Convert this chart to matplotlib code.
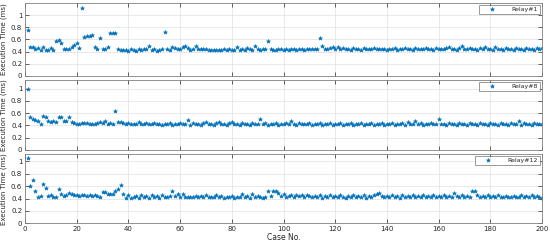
import numpy as np
import matplotlib
matplotlib.use("Agg")
import matplotlib.pyplot as plt

cases = list(range(1, 201))

relay1 = [
    0.76, 0.47, 0.48, 0.45, 0.46, 0.43, 0.47, 0.42, 0.42, 0.46,
    0.42, 0.57, 0.59, 0.54, 0.44, 0.44, 0.45, 0.48, 0.51, 0.55,
    0.46, 1.11, 0.64, 0.65, 0.66, 0.68, 0.47, 0.44, 0.63, 0.44,
    0.45, 0.48, 0.71, 0.71, 0.70, 0.45, 0.43, 0.42, 0.43, 0.41,
    0.45, 0.42, 0.41, 0.45, 0.42, 0.44, 0.45, 0.50, 0.42, 0.45,
    0.41, 0.42, 0.45, 0.73, 0.45, 0.42, 0.48, 0.46, 0.45, 0.44,
    0.47, 0.50, 0.46, 0.43, 0.45, 0.50, 0.44, 0.44, 0.45, 0.44,
    0.43, 0.43, 0.43, 0.42, 0.43, 0.43, 0.44, 0.43, 0.44, 0.43,
    0.42, 0.48, 0.43, 0.44, 0.42, 0.46, 0.44, 0.43, 0.50, 0.44,
    0.43, 0.45, 0.44, 0.58, 0.44, 0.43, 0.42, 0.44, 0.45, 0.43,
    0.44, 0.43, 0.45, 0.44, 0.43, 0.44, 0.45, 0.43, 0.44, 0.44,
    0.44, 0.44, 0.44, 0.62, 0.50, 0.45, 0.44, 0.46, 0.48, 0.45,
    0.47, 0.44, 0.46, 0.44, 0.45, 0.43, 0.46, 0.44, 0.45, 0.43,
    0.46, 0.44, 0.45, 0.44, 0.46, 0.44, 0.44, 0.44, 0.44, 0.43,
    0.45, 0.44, 0.46, 0.43, 0.45, 0.44, 0.46, 0.44, 0.45, 0.43,
    0.46, 0.44, 0.45, 0.44, 0.46, 0.44, 0.45, 0.43, 0.46, 0.44,
    0.45, 0.44, 0.46, 0.47, 0.44, 0.45, 0.43, 0.46, 0.50, 0.45,
    0.44, 0.46, 0.44, 0.45, 0.43, 0.46, 0.44, 0.47, 0.44, 0.45,
    0.43, 0.47, 0.44, 0.45, 0.43, 0.46, 0.44, 0.45, 0.43, 0.46,
    0.44, 0.45, 0.43, 0.46, 0.44, 0.45, 0.43, 0.46, 0.44, 0.46,
]

relay8 = [
    1.00, 0.54, 0.51, 0.49, 0.48, 0.42, 0.56, 0.54, 0.47, 0.45,
    0.48, 0.45, 0.54, 0.54, 0.47, 0.47, 0.53, 0.46, 0.44, 0.43,
    0.43, 0.44, 0.44, 0.44, 0.42, 0.43, 0.42, 0.44, 0.45, 0.44,
    0.47, 0.42, 0.44, 0.43, 0.64, 0.46, 0.46, 0.44, 0.43, 0.44,
    0.42, 0.43, 0.42, 0.46, 0.43, 0.42, 0.44, 0.43, 0.42, 0.44,
    0.42, 0.43, 0.41, 0.43, 0.42, 0.44, 0.41, 0.43, 0.42, 0.44,
    0.42, 0.43, 0.49, 0.41, 0.44, 0.42, 0.43, 0.41, 0.44, 0.46,
    0.42, 0.43, 0.41, 0.44, 0.46, 0.42, 0.43, 0.41, 0.44, 0.46,
    0.42, 0.43, 0.41, 0.44, 0.42, 0.43, 0.41, 0.44, 0.42, 0.43,
    0.50, 0.42, 0.44, 0.41, 0.43, 0.42, 0.44, 0.41, 0.43, 0.42,
    0.44, 0.42, 0.47, 0.43, 0.41, 0.44, 0.42, 0.43, 0.42, 0.44,
    0.41, 0.43, 0.42, 0.44, 0.41, 0.43, 0.42, 0.44, 0.41, 0.43,
    0.42, 0.44, 0.41, 0.43, 0.42, 0.44, 0.41, 0.43, 0.42, 0.44,
    0.41, 0.43, 0.42, 0.44, 0.41, 0.43, 0.42, 0.44, 0.41, 0.43,
    0.42, 0.44, 0.41, 0.43, 0.42, 0.44, 0.41, 0.46, 0.42, 0.43,
    0.47, 0.42, 0.44, 0.41, 0.43, 0.42, 0.44, 0.42, 0.43, 0.50,
    0.42, 0.43, 0.41, 0.44, 0.42, 0.43, 0.41, 0.44, 0.42, 0.43,
    0.41, 0.44, 0.42, 0.43, 0.41, 0.44, 0.42, 0.43, 0.41, 0.44,
    0.42, 0.43, 0.41, 0.44, 0.42, 0.43, 0.41, 0.44, 0.42, 0.43,
    0.47, 0.41, 0.44, 0.42, 0.43, 0.41, 0.44, 0.42, 0.43, 0.42,
]

relay12 = [
    1.05, 0.60, 0.70, 0.53, 0.42, 0.44, 0.63, 0.57, 0.44, 0.45,
    0.43, 0.42, 0.56, 0.48, 0.44, 0.45, 0.49, 0.47, 0.46, 0.45,
    0.44, 0.45, 0.45, 0.44, 0.45, 0.44, 0.45, 0.44, 0.42, 0.51,
    0.50, 0.48, 0.47, 0.47, 0.53, 0.56, 0.62, 0.48, 0.41, 0.45,
    0.41, 0.42, 0.44, 0.41, 0.45, 0.42, 0.44, 0.41, 0.45, 0.42,
    0.44, 0.41, 0.45, 0.42, 0.43, 0.44, 0.53, 0.44, 0.47, 0.42,
    0.47, 0.43, 0.42, 0.43, 0.42, 0.44, 0.42, 0.44, 0.42, 0.46,
    0.42, 0.43, 0.42, 0.46, 0.42, 0.44, 0.41, 0.43, 0.42, 0.44,
    0.41, 0.43, 0.42, 0.47, 0.42, 0.44, 0.41, 0.47, 0.43, 0.44,
    0.42, 0.41, 0.43, 0.52, 0.44, 0.53, 0.52, 0.49, 0.44, 0.47,
    0.43, 0.44, 0.45, 0.43, 0.45, 0.44, 0.45, 0.43, 0.45, 0.44,
    0.42, 0.44, 0.43, 0.45, 0.41, 0.44, 0.42, 0.45, 0.43, 0.44,
    0.42, 0.45, 0.43, 0.41, 0.44, 0.42, 0.45, 0.43, 0.44, 0.42,
    0.45, 0.41, 0.44, 0.42, 0.46, 0.48, 0.49, 0.44, 0.43, 0.44,
    0.42, 0.45, 0.43, 0.44, 0.41, 0.45, 0.43, 0.44, 0.42, 0.45,
    0.43, 0.44, 0.42, 0.45, 0.43, 0.44, 0.42, 0.45, 0.43, 0.44,
    0.42, 0.45, 0.43, 0.44, 0.42, 0.49, 0.44, 0.43, 0.45, 0.42,
    0.44, 0.43, 0.52, 0.52, 0.45, 0.43, 0.44, 0.42, 0.45, 0.43,
    0.44, 0.42, 0.45, 0.43, 0.42, 0.44, 0.43, 0.42, 0.44, 0.43,
    0.42, 0.45, 0.43, 0.44, 0.42, 0.45, 0.43, 0.44, 0.42, 0.41,
]

series = [relay1, relay8, relay12]
labels = ["Relay#1", "Relay#8", "Relay#12"]
ytops = [1.2, 1.14, 1.12]
xticks = list(range(0, 201, 20))
yticks = [0, 0.2, 0.4, 0.6, 0.8, 1.0]
ytick_labels = ["0", "0.2", "0.4", "0.6", "0.8", "1"]

W, H = 550, 245
fig = plt.figure(figsize=(W / 100, H / 100), dpi=100)
left, right = 25, 542
boxes = [(3, 76), (80, 150), (154, 223.3)]
blue = (0, 0.447, 0.741)
tcol = (0.15, 0.15, 0.15)

for i, (vals, lab, yt, (top, bot)) in enumerate(zip(series, labels, ytops, boxes)):
    ax = fig.add_axes([left / W, 1 - bot / H, (right - left) / W, (bot - top) / H])
    ax.plot(cases, vals, linestyle="none", marker="*", markersize=3.0,
            color=blue, markeredgewidth=0.4, label=lab)
    ax.set_xlim(0, 200)
    ax.set_ylim(0, yt)
    ax.set_xticks(xticks)
    ax.set_yticks(yticks)
    ax.set_yticklabels(ytick_labels)
    ax.grid(True, color=(0.88, 0.88, 0.88), linewidth=0.5)
    ax.set_axisbelow(True)
    ax.tick_params(direction="in", top=True, right=True, length=3, width=0.5,
                   labelsize=5, colors=tcol, pad=2)
    for s in ax.spines.values():
        s.set_color((0.5, 0.5, 0.5))
        s.set_linewidth(0.6)
    if i < 2:
        ax.set_xticklabels([])
    else:
        ax.set_xlabel("Case No.", fontsize=5.5, color=tcol, labelpad=1)
    ax.set_ylabel("Execution Time (ms)", fontsize=5, color=tcol, labelpad=3)
    leg = ax.legend(loc="upper right", fontsize=4.5, frameon=True, fancybox=False,
                    borderaxespad=0.3, handlelength=3.5, borderpad=0.3,
                    handletextpad=1.5, markerscale=1.0)
    leg.get_frame().set_edgecolor((0.3, 0.3, 0.3))
    leg.get_frame().set_linewidth(0.5)
    for t in leg.get_texts():
        t.set_color(tcol)

fig.savefig("out.png", dpi=100)
